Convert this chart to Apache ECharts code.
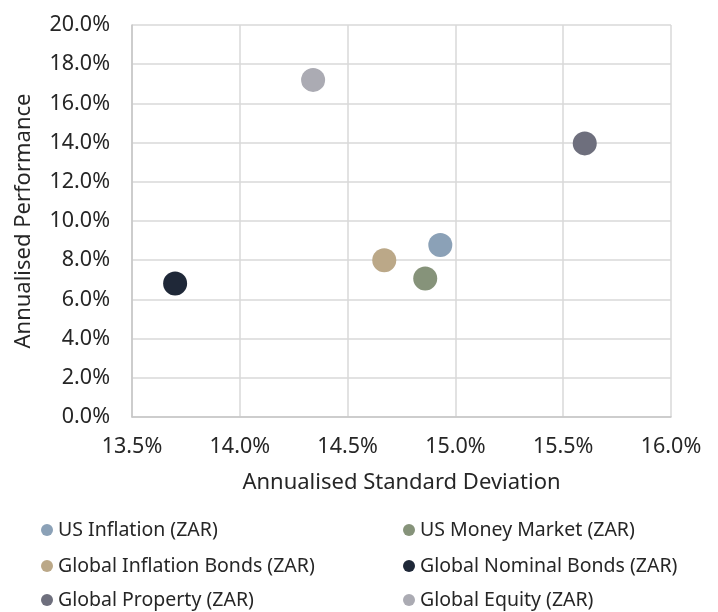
<!DOCTYPE html>
<html>
<head>
<meta charset="utf-8">
<script src="https://cdn.jsdelivr.net/npm/echarts@6/dist/echarts.min.js"></script>
<style>
  html, body { margin: 0; padding: 0; background: #fff; }
  #chart { width: 718px; height: 612px; }
</style>
</head>
<body>
<div id="chart"></div>
<script>
// asset classes, annualised std dev (%) and annualised performance (%)
const names = [
  'US Inflation (ZAR)', 'US Money Market (ZAR)',
  'Global Inflation Bonds (ZAR)', 'Global Nominal Bonds (ZAR)',
  'Global Property (ZAR)', 'Global Equity (ZAR)'
];
const stdDev = [14.93, 14.86, 14.67, 13.70, 15.60, 14.34];
const perf = [8.77, 7.07, 8.00, 6.81, 13.96, 17.20];
const colors = ['#8ba1b7', '#86937a', '#bba888', '#1f2838', '#6e6f7d', '#ababb3'];

const font = 'Noto Sans';
const txt = '#262626';
const myChart = echarts.init(document.getElementById('chart'));

const series = names.map((n, i) => ({
  name: n,
  type: 'scatter',
  symbolSize: 24,
  itemStyle: { color: colors[i], opacity: 1 },
  data: [[stdDev[i], perf[i]]]
}));

// legend: two columns, three rows
const legendCols = [41, 403];
const legendRows = [530, 566, 600];
const legends = names.map((n, i) => ({
  left: legendCols[i % 2],
  top: legendRows[Math.floor(i / 2)] - 10,
  padding: 0,
  icon: 'circle', itemWidth: 12, itemHeight: 12, itemGap: 0,
  textStyle: { fontFamily: font, fontSize: 19.5, color: txt },
  data: [n]
}));

myChart.setOption({
  animation: false,
  color: colors,
  grid: { left: 132, right: 47, top: 25, bottom: 195 },
  legend: legends,
  xAxis: {
    type: 'value', min: 13.5, max: 16, interval: 0.5,
    name: 'Annualised Standard Deviation',
    nameLocation: 'middle', nameGap: 55,
    nameTextStyle: { fontFamily: font, fontSize: 22, color: txt },
    axisLine: { show: true, lineStyle: { color: '#c6c6c6', width: 1.5 } },
    axisTick: { show: false },
    splitLine: { lineStyle: { color: '#d9d9d9', width: 1.5 } },
    axisLabel: {
      fontFamily: font, fontSize: 21.5, color: txt, margin: 19,
      formatter: v => v.toFixed(1) + '%'
    }
  },
  yAxis: {
    type: 'value', min: 0, max: 20, interval: 2,
    name: 'Annualised Performance',
    nameLocation: 'middle', nameGap: 97,
    nameTextStyle: { fontFamily: font, fontSize: 22, color: txt },
    axisLine: { show: true, lineStyle: { color: '#c6c6c6', width: 1.5 } },
    axisTick: { show: false },
    splitLine: { lineStyle: { color: '#d9d9d9', width: 1.5 } },
    axisLabel: {
      fontFamily: font, fontSize: 21.5, color: txt, margin: 22,
      formatter: v => v.toFixed(1) + '%'
    }
  },
  series: series
});
</script>
</body>
</html>
